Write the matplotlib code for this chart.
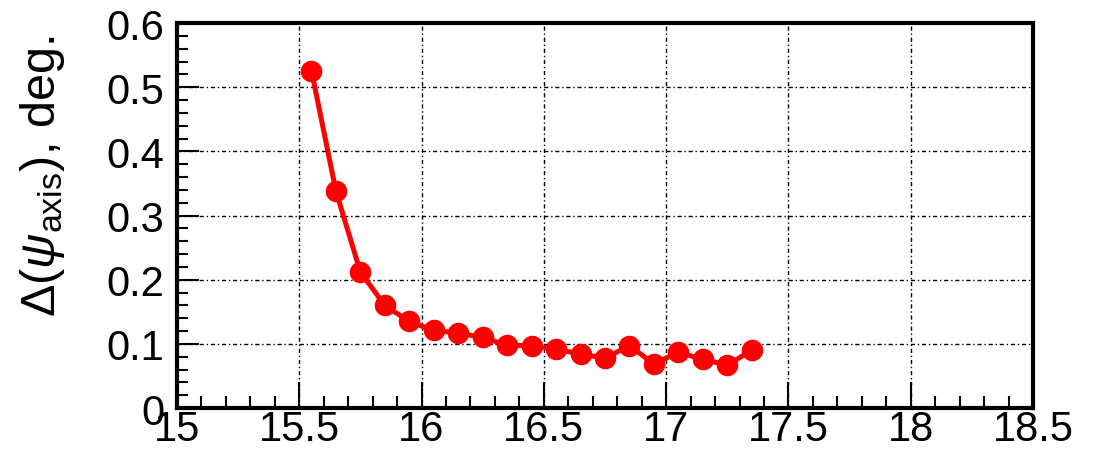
import numpy as np
import matplotlib
matplotlib.use("Agg")
import matplotlib.pyplot as plt
from matplotlib.ticker import MultipleLocator

plt.rcParams['font.family'] = ['Liberation Sans', 'DejaVu Sans']
plt.rcParams['mathtext.fontset'] = 'custom'
plt.rcParams['mathtext.rm'] = 'Liberation Sans'
plt.rcParams['mathtext.it'] = 'Liberation Sans:italic'

# data
energy = [15.55, 15.65, 15.75, 15.85, 15.95, 16.05, 16.15, 16.25, 16.35, 16.45,
          16.55, 16.65, 16.75, 16.85, 16.95, 17.05, 17.15, 17.25, 17.35]
dpsi = [0.526, 0.338, 0.212, 0.160, 0.135, 0.121, 0.117, 0.110, 0.098, 0.097,
        0.092, 0.084, 0.078, 0.097, 0.069, 0.087, 0.076, 0.067, 0.090]

fig = plt.figure(figsize=(10.99, 4.56), dpi=100)
ax = fig.add_axes([0.161, 0.103, 0.779, 0.844])

ax.plot(energy, dpsi, color='#ff0000', lw=3.6, marker='o', ms=14.5,
        mec='#ff0000', mfc='#ff0000', zorder=3)

ax.set_xlim(15, 18.5)
ax.set_ylim(0, 0.6)
ax.xaxis.set_major_locator(MultipleLocator(0.5))
ax.xaxis.set_minor_locator(MultipleLocator(0.1))
ax.yaxis.set_major_locator(MultipleLocator(0.1))
ax.yaxis.set_minor_locator(MultipleLocator(0.02))
ax.set_xticks([15, 15.5, 16, 16.5, 17, 17.5, 18, 18.5])
ax.set_xticklabels(['15', '15.5', '16', '16.5', '17', '17.5', '18', '18.5'])
ax.set_yticks([0, 0.1, 0.2, 0.3, 0.4, 0.5, 0.6])
ax.set_yticklabels(['0', '0.1', '0.2', '0.3', '0.4', '0.5', '0.6'])

ax.grid(True, which='major', color='black', lw=1.0, ls=(0, (3, 2, 1, 2)))
ax.tick_params(which='both', direction='in', top=False, right=False,
               labelsize=30, width=1.5)
ax.tick_params(axis='x', which='major', length=19, pad=1)
ax.tick_params(axis='x', which='minor', length=9)
ax.tick_params(axis='y', which='major', length=16, pad=9)
ax.tick_params(axis='y', which='minor', length=8)
for s in ax.spines.values():
    s.set_linewidth(3)

ax.set_ylabel(r'$\Delta(\psi_{\rm axis})$, deg.', fontsize=35)
ax.yaxis.set_label_coords(-0.128, 0.605)

fig.savefig('out.png', dpi=100)
